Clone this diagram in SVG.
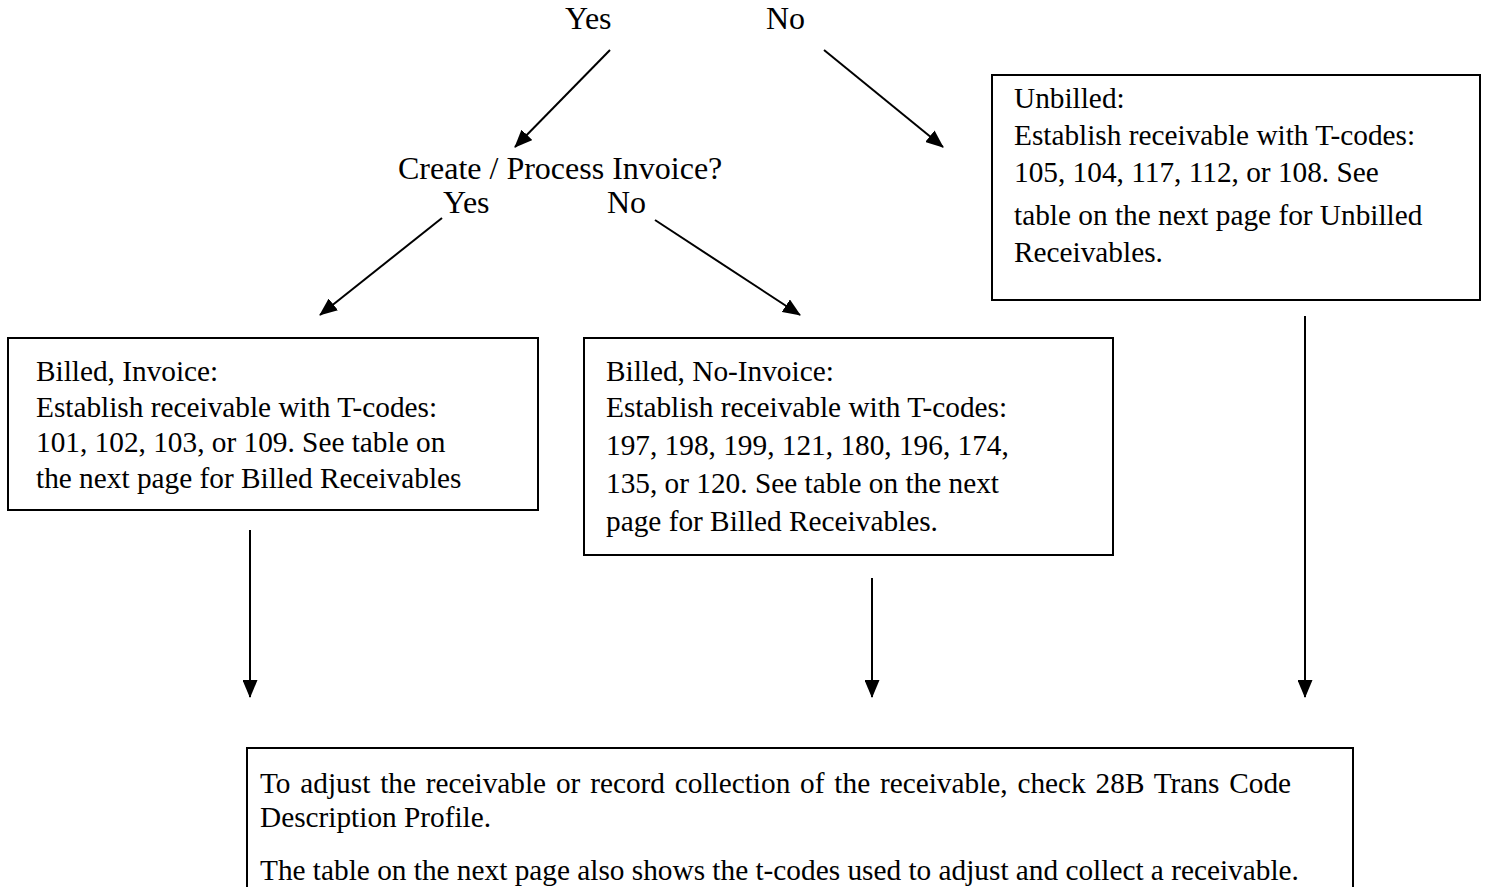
<svg xmlns="http://www.w3.org/2000/svg" width="1492" height="887" viewBox="0 0 1492 887">
<defs>
<marker id="ah" markerWidth="18" markerHeight="15" refX="17" refY="7.5" orient="auto" markerUnits="userSpaceOnUse">
<path d="M0,0 L18,7.5 L0,15 Z" fill="#000"/>
</marker>
<style>
.t{font-family:'Liberation Serif','DejaVu Serif',serif;font-size:29.3px;fill:#000}
.lbl{font-size:32px}
.box{fill:#fff;stroke:#000;stroke-width:2}
.c{stroke:#000;stroke-width:2;fill:none;marker-end:url(#ah)}
</style>
</defs>
<rect width="1492" height="887" fill="#fff"/>
<g id="labels" class="t lbl" font-family="Liberation Serif, DejaVu Serif, serif">
<text x="565" y="29">Yes</text>
<text x="766" y="29">No</text>
<text x="398" y="179">Create / Process Invoice?</text>
<text x="443" y="213">Yes</text>
<text x="607" y="213">No</text>
</g>
<g id="connectors">
<line class="c" x1="610" y1="50" x2="515" y2="147"/>
<line class="c" x1="824" y1="50" x2="943" y2="147"/>
<line class="c" x1="442" y1="218" x2="320" y2="315"/>
<line class="c" x1="655" y1="220" x2="800" y2="315"/>
<line class="c" x1="250" y1="530" x2="250" y2="697"/>
<line class="c" x1="872" y1="578" x2="872" y2="697"/>
<line class="c" x1="1305" y1="316" x2="1305" y2="697"/>
</g>
<g id="unbilled">
<rect class="box" x="992" y="75" width="488" height="225"/>
<g class="t" font-family="Liberation Serif, DejaVu Serif, serif">
<text x="1014" y="108">Unbilled:</text>
<text x="1014" y="145">Establish receivable with T-codes:</text>
<text x="1014" y="182">105, 104, 117, 112, or 108. See</text>
<text x="1014" y="225">table on the next page for Unbilled</text>
<text x="1014" y="262">Receivables.</text>
</g>
</g>
<g id="billed-invoice">
<rect class="box" x="8" y="338" width="530" height="172"/>
<g class="t" font-family="Liberation Serif, DejaVu Serif, serif">
<text x="36" y="381">Billed, Invoice:</text>
<text x="36" y="417">Establish receivable with T-codes:</text>
<text x="36" y="452">101, 102, 103, or 109. See table on</text>
<text x="36" y="488">the next page for Billed Receivables</text>
</g>
</g>
<g id="billed-noinvoice">
<rect class="box" x="584" y="338" width="529" height="217"/>
<g class="t" font-family="Liberation Serif, DejaVu Serif, serif">
<text x="606" y="381">Billed, No-Invoice:</text>
<text x="606" y="417">Establish receivable with T-codes:</text>
<text x="606" y="455">197, 198, 199, 121, 180, 196, 174,</text>
<text x="606" y="493">135, or 120. See table on the next</text>
<text x="606" y="531">page for Billed Receivables.</text>
</g>
</g>
<g id="adjust">
<rect class="box" x="247" y="748" width="1106" height="160"/>
<g class="t" font-family="Liberation Serif, DejaVu Serif, serif">
<text x="260" y="793" word-spacing="2.5">To adjust the receivable or record collection of the receivable, check 28B Trans Code</text>
<text x="260" y="827">Description Profile.</text>
<text x="260" y="880">The table on the next page also shows the t-codes used to adjust and collect a receivable.</text>
</g>
</g>
</svg>
